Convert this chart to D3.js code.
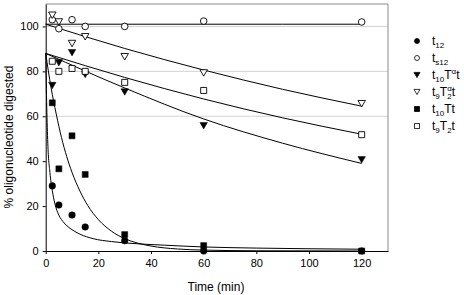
<!DOCTYPE html>
<html>
<head>
<meta charset="utf-8">
<script src="https://cdn.jsdelivr.net/npm/d3@7"></script>
<style>
  body { margin: 0; background: #fff; }
  svg { font-family: "Liberation Sans", Arial, sans-serif; }
  .tick text { font-size: 11px; fill: #000; }
  .rahmen { stroke: #8a8a8a; fill: none; }
  .mreza { stroke: #d4d4d4; }
  .fit { fill: none; stroke: #000; stroke-width: 1; }
</style>
</head>
<body>
<div id="okvir"></div>
<script>
// measured points (min, % digested)
const vremena = [2.5, 5, 10, 15, 30, 60, 120]
const t12 = [29, 20.5, 16, 10.7, 4.6, 0, 0]
const ts12 = [103, 99, 103, 100, 100, 102.4, 102]
const t10Tat = [73.7, 83.8, 88.3, 78.6, 70.8, 55.8, 40.6]
const t9Ta2t = [105, 102, 92.4, 95.4, 86.5, 79.3, 65.6]
const t10Tt = [66, 36.6, 51.3, 34.1, 7.3, 2.4, 0]
const t9T2t = [84.5, 80, 81.3, 80, 75.1, 71.5, 51.8]

// fitted curves
const sporaVremena = [0, 30, 60, 90, 120]
const fitTs12 = [101, 101, 101, 101, 101]
const fitT10Tat = [88, 72.6, 58.8, 48, 39]
const fitT9Ta2t = [101, 90.2, 80.6, 72, 64.5]
const fitT9T2t = [88, 77.3, 67.7, 59.3, 52]

const brzaVremenaA = [0, 0.4, 0.8, 1.6, 2.5, 3.5, 5, 7, 10, 13, 18, 25, 35, 45, 60, 80, 100, 120]
const fitT12 = [88, 64, 48, 35, 27, 21, 16, 12.5, 9.5, 7.5, 5.5, 4.2, 3.2, 2.6, 1.8, 1.3, 1, 0.8]
const brzaVremenaB = [0, 2, 4, 6, 8, 10, 13, 16, 20, 25, 30, 35, 40, 50, 60, 80, 120]
const fitT10Tt = [88, 73, 61, 50.5, 42, 35, 26.7, 20.2, 14, 8.8, 5.5, 3.5, 2.2, 0.9, 0.4, 0.1, 0]

const xTicks = [0, 20, 40, 60, 80, 100, 120]
const yTicks = [0, 20, 40, 60, 80, 100]
const mrezaTicks = [60, 80, 100]

const dimenzije = {
  sirina: 464,
  visina: 295,
  lijevo: 45.7,
  desno: 388,
  gore: 4,
  dolje: 251,
}

const okvir = d3.select("#okvir")
  .append("svg")
  .attr("width", dimenzije.sirina)
  .attr("height", dimenzije.visina)

const xSkala = d3.scaleLinear().domain([0, 130]).range([dimenzije.lijevo, dimenzije.desno])
const ySkala = d3.scaleLinear().domain([0, 110]).range([dimenzije.dolje, dimenzije.gore])

// grid
okvir.selectAll(".mreza")
  .data(mrezaTicks)
  .enter().append("line")
    .attr("class", "mreza")
    .attr("x1", dimenzije.lijevo)
    .attr("x2", dimenzije.desno)
    .attr("y1", d => ySkala(d))
    .attr("y2", d => ySkala(d))

// top / right frame
okvir.append("path")
  .attr("class", "rahmen")
  .attr("d", `M${dimenzije.lijevo},${dimenzije.gore}H${dimenzije.desno}V${dimenzije.dolje}`)

// axes
const xOs = okvir.append("g")
  .attr("transform", `translate(0,${dimenzije.dolje})`)
  .call(d3.axisBottom(xSkala).tickValues(xTicks).tickSize(3).tickSizeOuter(0).tickPadding(5))
xOs.select(".domain").attr("stroke", "#000")

const yOs = okvir.append("g")
  .attr("transform", `translate(${dimenzije.lijevo},0)`)
  .call(d3.axisLeft(ySkala).tickValues(yTicks).tickSize(3).tickSizeOuter(0).tickPadding(4))

okvir.append("text")
  .attr("x", 216)
  .attr("y", 291)
  .attr("text-anchor", "middle")
  .style("font-size", "12px")
  .text("Time (min)")

okvir.append("text")
  .attr("transform", "translate(13,137) rotate(-90)")
  .attr("text-anchor", "middle")
  .style("font-size", "12px")
  .text("% oligonucleotide digested")

// fit lines
const linija = d3.line()
  .x(d => xSkala(d[0]))
  .y(d => ySkala(d[1]))
  .curve(d3.curveMonotoneX)

const fitovi = [
  [sporaVremena, fitTs12],
  [sporaVremena, fitT10Tat],
  [sporaVremena, fitT9Ta2t],
  [sporaVremena, fitT9T2t],
  [brzaVremenaA, fitT12],
  [brzaVremenaB, fitT10Tt],
]
okvir.selectAll(".fit")
  .data(fitovi)
  .enter().append("path")
    .attr("class", "fit")
    .attr("d", ([t, v]) => linija(t.map((x, i) => [x, v[i]])))

// markers
function oblik(tip, s) {
  if (tip == "krug") {
    const p = d3.path()
    p.arc(0, 0, s / 2, 0, 2 * Math.PI)
    p.closePath()
    return p.toString()
  }
  if (tip == "kvadrat") return `M${-s/2},${-s/2}h${s}v${s}h${-s}Z`
  return `M${-s/2},${-s*0.43}L${s/2},${-s*0.43}L0,${s*0.43}Z`
}

const serije = [
  { vrijednosti: t12, tip: "krug", pun: true },
  { vrijednosti: ts12, tip: "krug", pun: false },
  { vrijednosti: t10Tat, tip: "trokut", pun: true },
  { vrijednosti: t9Ta2t, tip: "trokut", pun: false },
  { vrijednosti: t10Tt, tip: "kvadrat", pun: true },
  { vrijednosti: t9T2t, tip: "kvadrat", pun: false },
]

serije.forEach(s => {
  const velicina = s.tip == "krug" ? 6.6 : s.tip == "kvadrat" ? 6 : 7.5
  okvir.append("g").selectAll("path")
    .data(vremena.map((t, i) => [t, s.vrijednosti[i]]))
    .enter().append("path")
      .attr("transform", d => `translate(${xSkala(d[0])},${ySkala(d[1])})`)
      .attr("d", oblik(s.tip, velicina))
      .attr("fill", s.pun ? "#000" : "#fff")
      .attr("stroke", "#000")
      .attr("stroke-width", s.pun ? 0.5 : 0.9)
})

// legend
const legendaOznake = [
  [["t", 0], ["12", 1]],
  [["t", 0], ["s12", 1]],
  [["t", 0], ["10", 1], ["T", 0], ["α", 2], ["t", 0]],
  [["t", 0], ["9", 1], ["T", 0], ["α", 2], ["2", 3], ["t", 0]],
  [["t", 0], ["10", 1], ["Tt", 0]],
  [["t", 0], ["9", 1], ["T", 0], ["2", 1], ["t", 0]],
]

const legenda = okvir.append("g")
serije.forEach((s, i) => {
  const y = 41 + i * 17
  const velicina = s.tip == "krug" ? 5 : s.tip == "kvadrat" ? 5 : 6
  legenda.append("path")
    .attr("transform", `translate(417,${y})`)
    .attr("d", oblik(s.tip, velicina))
    .attr("fill", s.pun ? "#000" : "#fff")
    .attr("stroke", "#000")
    .attr("stroke-width", 0.8)

  const tekst = legenda.append("text")
    .attr("x", 432)
    .attr("y", y + 4)
    .style("font-size", "12px")

  let pomak = 0
  legendaOznake[i].forEach(([dio, vrsta]) => {
    const sp = tekst.append("tspan").text(dio)
    let cilj = 0
    if (vrsta == 1 || vrsta == 3) cilj = 3
    if (vrsta == 2) cilj = -5
    sp.attr("dy", cilj - pomak)
    pomak = cilj
    if (vrsta > 0) sp.style("font-size", "8px")
    if (vrsta == 3) sp.attr("dx", -4.5)
  })
})
</script>
</body>
</html>
